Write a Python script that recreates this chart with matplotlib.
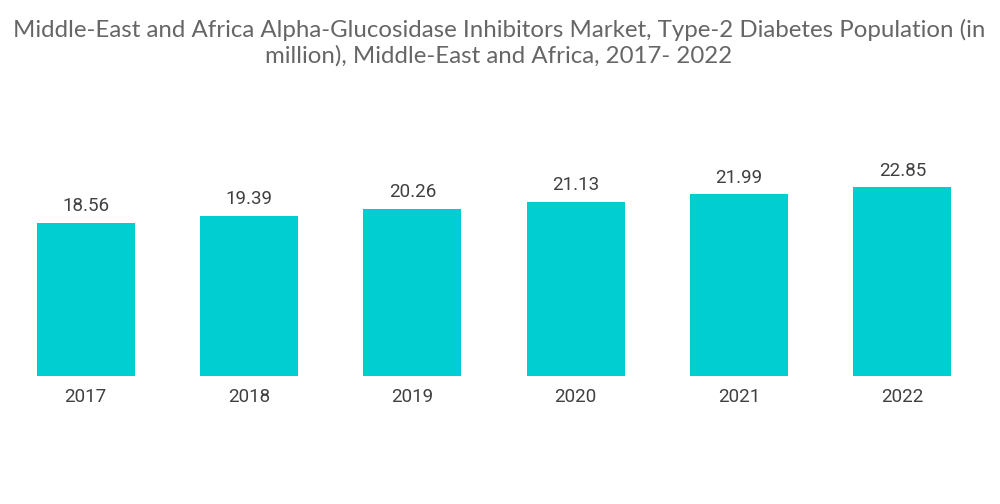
import matplotlib
matplotlib.use("Agg")
import matplotlib.pyplot as plt

plt.rcParams['font.family'] = ['Lato', 'DejaVu Sans']

# data
years = ["2017", "2018", "2019", "2020", "2021", "2022"]
population = [18.56, 19.39, 20.26, 21.13, 21.99, 22.85]

title = ("Middle-East and Africa Alpha-Glucosidase Inhibitors Market, Type-2 Diabetes Population (in\n"
         "million), Middle-East and Africa, 2017- 2022")

fig = plt.figure(figsize=(10, 5.04), dpi=100)
ax = fig.add_axes([0.004, 128 / 504, 0.98, 256 / 504])

x = range(len(years))
bars = ax.bar(x, population, width=0.6, color="#00CED1")

for i, v in enumerate(population):
    ax.text(i, v + 0.9, f"{v:.2f}", ha="center", va="bottom",
            fontsize=13.5, color="#404040", family=["Roboto", "DejaVu Sans"])

ax.set_xlim(-0.5, len(years) - 0.5)
ax.set_ylim(0, 31)
ax.set_xticks(list(x))
ax.set_xticklabels(years, fontsize=13.5, color="#404040", family=["Roboto", "DejaVu Sans"])
ax.tick_params(axis="x", length=0, pad=9)
ax.set_yticks([])
for s in ax.spines.values():
    s.set_visible(False)

fig.text(0.499, 0.962, title, ha="center", va="top", fontsize=17.3,
         color="#666666", linespacing=1.2)

fig.savefig("out.png", dpi=100)
